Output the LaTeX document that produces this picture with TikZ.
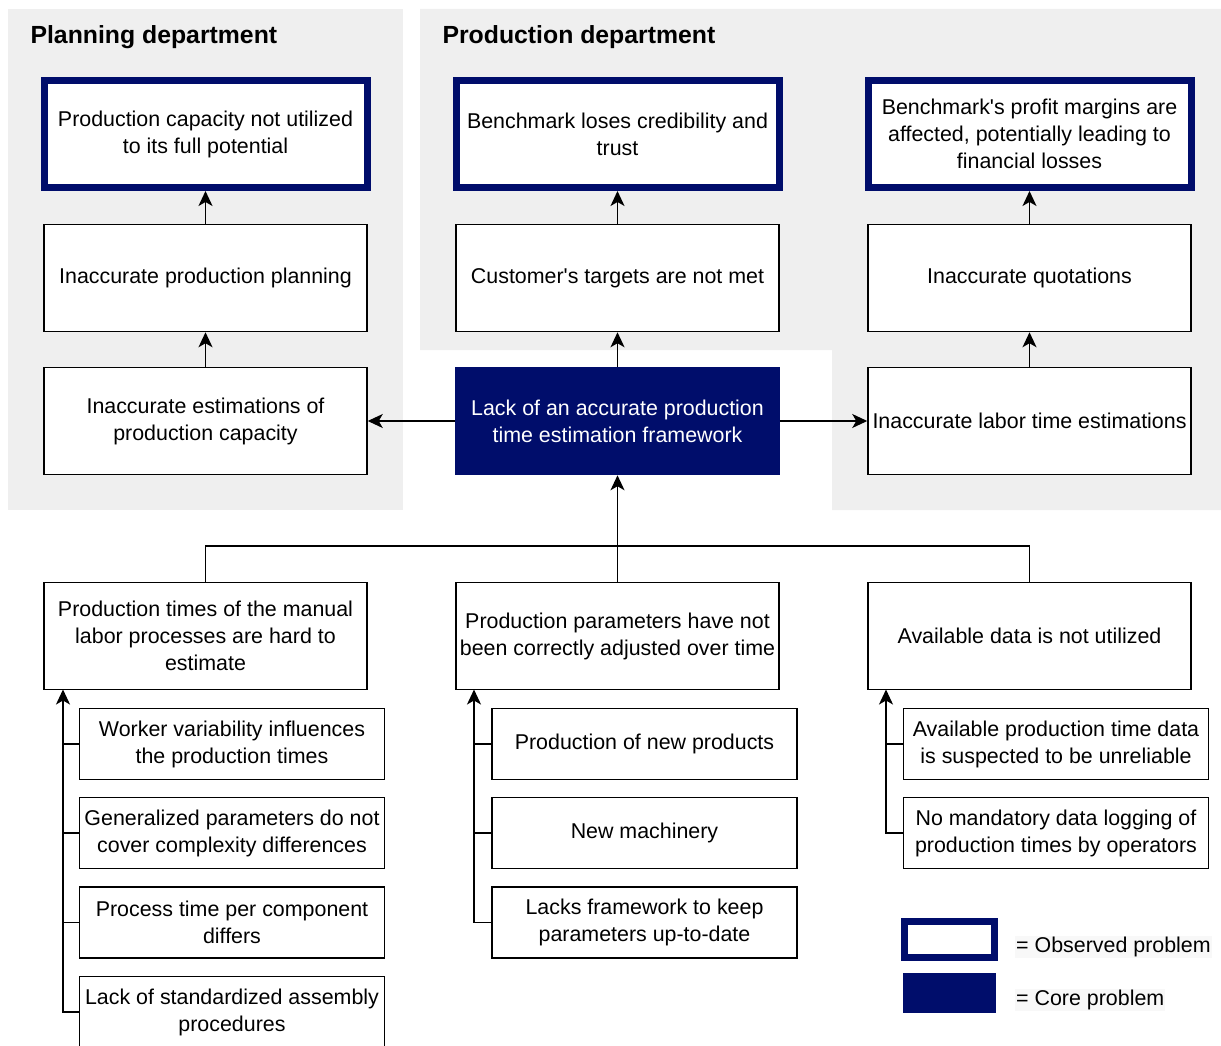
\documentclass[tikz,border=0pt]{standalone}
\usepackage{fontspec}
\setmainfont{Liberation Sans}
\usetikzlibrary{arrows.meta}
\definecolor{navy}{RGB}{0,13,107}
\definecolor{panel}{RGB}{239,239,239}
\definecolor{legendbg}{RGB}{248,248,248}

\begin{document}
\begin{tikzpicture}[x=1pt,y=-1pt,
  txt/.style={font=\fontsize{21.4}{27}\selectfont},
  box/.style={txt, draw=black, line width=1.5pt, fill=white, align=center,
    minimum width=323pt, minimum height=107pt, inner sep=1pt},
  obsbox/.style={box, draw=navy, line width=7pt},
  corebox/.style={box, draw=navy, fill=navy, text=white},
  subbox/.style={box, minimum width=305pt, minimum height=71pt},
  hdr/.style={anchor=west, font=\bfseries\fontsize{24.8}{27}\selectfont},
  arr/.style={line width=1.5pt, -{Stealth[length=15pt, width=14pt, inset=4pt]}},
  link/.style={line width=1.5pt},
  legtxt/.style={txt, anchor=west, fill=legendbg, inner sep=1pt}
]
\useasboundingbox (0,0) rectangle (1221,1046);

% department panels
\fill[panel] (8,9) rectangle (403,510);
\fill[panel] (420,9) -- (1221,9) -- (1221,510) -- (832,510) -- (832,350) -- (420,350) -- cycle;
\node[hdr] (hplan) at (27,37) {Planning department};
\node[hdr] (hprod) at (439,37) {Production department};

% observed problems
\node[obsbox] (obsA) at (205.5,134) {Production capacity not utilized\\to its full potential};
\node[obsbox] (obsB) at (617.5,134) {Benchmark loses credibility and\\trust};
\node[obsbox] (obsC) at (1029.5,134) {Benchmark\textquotesingle s profit margins are\\affected, potentially leading to\\financial losses};

% consequences
\node[box] (plan) at (205.5,278) {Inaccurate production planning};
\node[box] (targ) at (617.5,278) {Customer\textquotesingle s targets are not met};
\node[box] (quot) at (1029.5,278) {Inaccurate quotations};

\node[box] (est) at (205.5,421) {Inaccurate estimations of\\production capacity};
\node[corebox] (core) at (617.5,421) {Lack of an accurate production\\time estimation framework};
\node[box] (labor) at (1029.5,421) {Inaccurate labor time estimations};

% causes
\node[box] (manual) at (205.5,636) {Production times of the manual\\labor processes are hard to\\estimate};
\node[box] (params) at (617.5,636) {Production parameters have not\\been correctly adjusted over time};
\node[box] (data) at (1029.5,636) {Available data is not utilized};

% sub-causes
\node[subbox] (m1) at (232,744) {Worker variability influences\\the production times};
\node[subbox] (m2) at (232,833) {Generalized parameters do not\\cover complexity differences};
\node[subbox] (m3) at (232,922.5) {Process time per component\\differs};
\node[subbox] (m4) at (232,1012) {Lack of standardized assembly\\procedures};

\node[subbox] (p1) at (644.5,744) {Production of new products};
\node[subbox] (p2) at (644.5,833) {New machinery};
\node[subbox] (p3) at (644.5,922.5) {Lacks framework to keep\\parameters up-to-date};

\node[subbox] (d1) at (1056,744) {Available production time data\\is suspected to be unreliable};
\node[subbox] (d2) at (1056,833) {No mandatory data logging of\\production times by operators};

% upward effects
\draw[arr] (plan) -- (obsA.south -| plan);
\draw[arr] (est) -- (plan);
\draw[arr] (targ) -- (obsB.south -| targ);
\draw[arr] (core) -- (targ);
\draw[arr] (quot) -- (obsC.south -| quot);
\draw[arr] (labor) -- (quot);
\draw[arr] (core) -- (est);
\draw[arr] (core) -- (labor);

% causes joining into the core problem
\coordinate (join) at (617.5,546);
\draw[link] (manual.north) |- (join) -| (data.north);
\draw[arr] (params) -- (core);

% sub-cause spines
\coordinate (mspine) at (63,689.5);
\coordinate (pspine) at (474,689.5);
\coordinate (dspine) at (886,689.5);
\draw[arr] (m4.west) -| (mspine);
\foreach \n in {m1,m2,m3} \draw[link] (\n.west) -- (\n.west -| mspine);
\draw[arr] (p3.west) -| (pspine);
\foreach \n in {p1,p2} \draw[link] (\n.west) -- (\n.west -| pspine);
\draw[arr] (d2.west) -| (dspine);
\draw[link] (d1.west) -- (d1.west -| dspine);

% legend
\node[draw=navy, line width=7pt, fill=white, minimum width=90pt, minimum height=36pt] (legobs) at (949.5,939.5) {};
\node[fill=navy, minimum width=93pt, minimum height=40pt] (legcore) at (949.5,993) {};
\node[legtxt] (legobstxt) at (1015,947) {= Observed problem};
\node[legtxt] (legcoretxt) at (1015,1000) {= Core problem};
\end{tikzpicture}
\end{document}
